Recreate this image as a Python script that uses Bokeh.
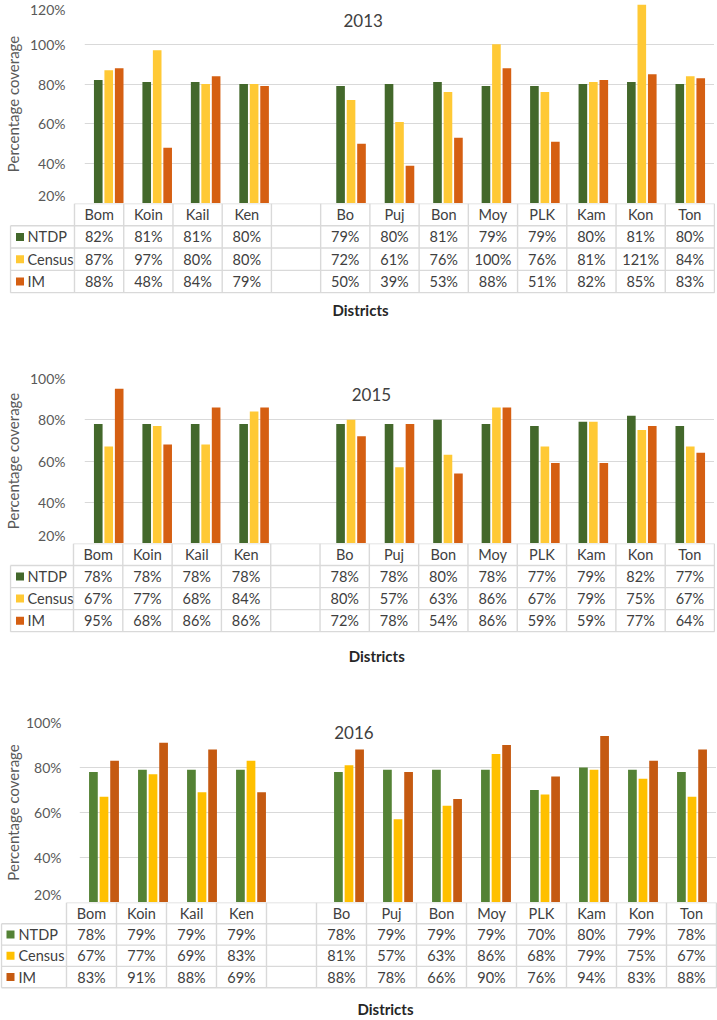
from bokeh.plotting import figure
from bokeh.models import FixedTicker, NumeralTickFormatter, Label, Range1d
from bokeh.core.properties import value
from bokeh.embed import file_html
from bokeh.resources import INLINE

# ---------------- data ----------------
districts = ["Bom", "Koin", "Kail", "Ken", "", "Bo", "Puj", "Bon", "Moy", "PLK", "Kam", "Kon", "Ton"]
series = ["NTDP", "Census", "IM"]
x_title = "Districts"
y_title = "Percentage coverage"

ticks_2013 = [0.2, 0.4, 0.6, 0.8, 1.0, 1.2]
ticks_2015 = [0.2, 0.4, 0.6, 0.8, 1.0]
ticks_2016 = [0.2, 0.4, 0.6, 0.8, 1.0]

ntdp_2013 = [0.82, 0.81, 0.81, 0.80, None, 0.79, 0.80, 0.81, 0.79, 0.79, 0.80, 0.81, 0.80]
census_2013 = [0.87, 0.97, 0.80, 0.80, None, 0.72, 0.61, 0.76, 1.00, 0.76, 0.81, 1.21, 0.84]
im_2013 = [0.88, 0.48, 0.84, 0.79, None, 0.50, 0.39, 0.53, 0.88, 0.51, 0.82, 0.85, 0.83]

ntdp_2015 = [0.78, 0.78, 0.78, 0.78, None, 0.78, 0.78, 0.80, 0.78, 0.77, 0.79, 0.82, 0.77]
census_2015 = [0.67, 0.77, 0.68, 0.84, None, 0.80, 0.57, 0.63, 0.86, 0.67, 0.79, 0.75, 0.67]
im_2015 = [0.95, 0.68, 0.86, 0.86, None, 0.72, 0.78, 0.54, 0.86, 0.59, 0.59, 0.77, 0.64]

ntdp_2016 = [0.78, 0.79, 0.79, 0.79, None, 0.78, 0.79, 0.79, 0.79, 0.70, 0.80, 0.79, 0.78]
census_2016 = [0.67, 0.77, 0.69, 0.83, None, 0.81, 0.57, 0.63, 0.86, 0.68, 0.79, 0.75, 0.67]
im_2016 = [0.83, 0.91, 0.88, 0.69, None, 0.88, 0.78, 0.66, 0.90, 0.76, 0.94, 0.83, 0.88]

# ---------------- style ----------------
FONT = "Lato"
GRID = "#D9D9D9"
TXT = "#404040"
AX = "#595959"
colors_a = ["#43682B", "#FFC935", "#D55F12"]
colors_b = ["#548235", "#FFC000", "#C55A11"]


def panel(year, vals, colors, ticks, g):
    ncol = len(districts)
    upx = g["frame_w"] / ncol
    W = g["ml"] + g["frame_w"]
    ch = figure(width=W, height=g["mt"] + g["frame_h"],
                x_range=Range1d(0, ncol), y_range=Range1d(ticks[0], ticks[-1]),
                x_axis_location=None, toolbar_location=None, output_backend="svg",
                min_border_left=g["ml"], min_border_right=0,
                min_border_top=g["mt"], min_border_bottom=0)
    ch.outline_line_color = None
    ch.background_fill_color = None
    ch.border_fill_color = None
    ch.xgrid.visible = False
    ch.ygrid.ticker = FixedTicker(ticks=ticks)
    ch.ygrid.grid_line_color = GRID
    ch.ygrid.grid_line_width = 1.2
    ax = ch.yaxis[0]
    ax.ticker = FixedTicker(ticks=ticks)
    ax.formatter = NumeralTickFormatter(format="0%")
    ax.axis_line_color = None
    ax.major_tick_line_color = None
    ax.minor_tick_line_color = None
    ax.major_label_standoff = g["tick_standoff"]
    ax.major_label_text_font = FONT
    ax.major_label_text_font_size = g["tick_fs"]
    ax.major_label_text_color = AX
    ax.axis_label = y_title
    ax.axis_label_text_font = FONT
    ax.axis_label_text_font_style = "normal"
    ax.axis_label_text_font_size = g["lab_fs"]
    ax.axis_label_text_color = AX
    ax.axis_label_standoff = g["lab_standoff"]

    bw = 0.178
    step = 0.216
    for k, v in enumerate(vals):
        xs = [i + 0.5 + (k - 1) * step for i, val in enumerate(v) if val is not None]
        tops = [val for val in v if val is not None]
        ch.vbar(x=xs, top=tops, bottom=ticks[0], width=bw,
                fill_color=colors[k], line_color=None)

    ch.add_layout(Label(x=g["title_x"], y=g["title_y"], text=year,
                        text_align="center", text_baseline="middle",
                        text_font=FONT, text_font_size="17px", text_color=TXT))

    # ---- data table ----
    nrow = len(series) + 1
    lw = g["legend_w"]
    L = lw / upx
    pad = 1.0 / upx
    rowh = g["row_h"]
    tb = figure(width=W + 1, height=nrow * rowh + 2 + g["db"],
                x_range=Range1d(-L - pad, ncol + pad),
                y_range=Range1d(-nrow - 2.0 / rowh, 0),
                y_axis_location=None, toolbar_location=None, output_backend="svg",
                min_border_left=g["ml"] - lw - 1, min_border_right=0,
                min_border_top=0, min_border_bottom=g["db"])
    tb.outline_line_color = None
    tb.background_fill_color = None
    tb.border_fill_color = None
    tb.grid.visible = False
    xa = tb.xaxis[0]
    dx = g["dist_x"]
    xa.ticker = FixedTicker(ticks=[dx])
    xa.major_label_overrides = {dx: x_title}
    xa.axis_line_color = None
    xa.major_tick_line_color = None
    xa.minor_tick_line_color = None
    xa.major_label_standoff = g["dist_standoff"]
    xa.major_label_text_font = FONT
    xa.major_label_text_font_style = "bold"
    xa.major_label_text_font_size = "15px"
    xa.major_label_text_color = "#262626"

    # borders
    x0, x1, y0, y1 = [], [], [], []
    for r in range(nrow + 1):
        x0.append(0 if r == 0 else -L)
        x1.append(ncol)
        y0.append(-r)
        y1.append(-r)
    x0.append(-L); x1.append(-L); y0.append(-1); y1.append(-nrow)
    for c in range(ncol + 1):
        x0.append(c); x1.append(c); y0.append(0); y1.append(-nrow)
    tb.segment(x0=x0, y0=y0, x1=x1, y1=y1, line_color=GRID, line_width=1.4)

    tb.text(x=[i + 0.5 for i in range(ncol)], y=[-0.5] * ncol, text=districts,
            text_align="center", text_baseline="middle",
            text_font=value(FONT), text_font_size=value("14.5px"), text_color=TXT)
    for k, v in enumerate(vals):
        xs = [i + 0.5 for i, val in enumerate(v) if val is not None]
        ts = ["%d%%" % round(val * 100) for val in v if val is not None]
        tb.text(x=xs, y=[-(k + 1.5)] * len(xs), text=ts,
                text_align="center", text_baseline="middle",
                text_font=value(FONT), text_font_size=value("14.5px"), text_color=TXT)
    ys = [-(k + 1.5) for k in range(len(series))]
    tb.scatter(x=[-L + g["key_dx"] / upx] * len(series), y=ys, marker="square",
               size=8, fill_color=colors, line_color=None)
    tb.text(x=[-L + g["txt_dx"] / upx] * len(series), y=ys, text=series,
            text_align="left", text_baseline="middle",
            text_font=value(FONT), text_font_size=value(g["leg_fs"]), text_color=TXT)
    return [ch, tb]


g1 = dict(ml=74, frame_w=640, mt=4, frame_h=199, legend_w=64, row_h=24, db=20,
          dist_standoff=0, dist_x=5.81, title_x=5.75, title_y=1.12,
          tick_fs="14px", lab_fs="15px", tick_standoff=13, lab_standoff=5,
          key_dx=9.5, txt_dx=17, leg_fs="14.5px")
g2 = dict(ml=73, frame_w=641, mt=57, frame_h=165, legend_w=63, row_h=24, db=26,
          dist_standoff=7, dist_x=6.15, title_x=5.92, title_y=0.922,
          tick_fs="14px", lab_fs="15px", tick_standoff=13, lab_standoff=5,
          key_dx=9.5, txt_dx=17, leg_fs="14.5px")
g3 = dict(ml=66, frame_w=650, mt=55, frame_h=180, legend_w=65, row_h=24, db=20,
          dist_standoff=4, dist_x=6.38, title_x=5.6, title_y=0.956,
          tick_fs="14px", lab_fs="15px", tick_standoff=12, lab_standoff=1,
          key_dx=9, txt_dx=17, leg_fs="14.5px")

items = []
items += panel("2013", [ntdp_2013, census_2013, im_2013], colors_a, ticks_2013, g1)
items += panel("2015", [ntdp_2015, census_2015, im_2015], colors_a, ticks_2015, g2)
items += panel("2016", [ntdp_2016, census_2016, im_2016], colors_b, ticks_2016, g3)

open("out.html", "w").write(file_html(items, INLINE))
